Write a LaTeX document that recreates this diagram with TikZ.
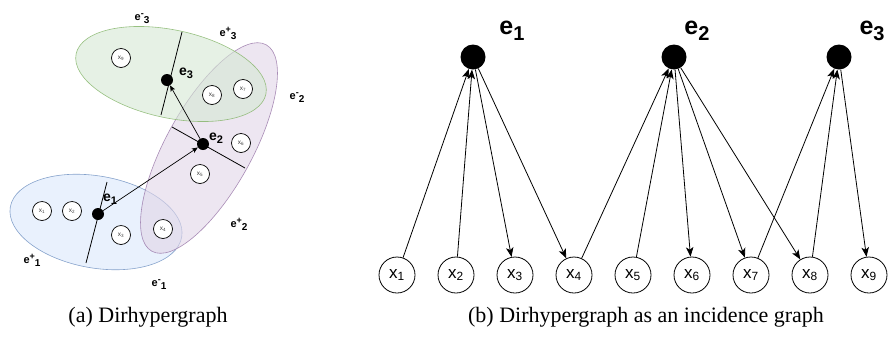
\documentclass[tikz,border=0pt]{standalone}
\usepackage{fontspec}
\setmainfont{Liberation Serif}
\newfontfamily\arial{Liberation Sans}
\usetikzlibrary{shapes.geometric,arrows.meta}
\definecolor{bfill}{HTML}{DAE8FC}
\definecolor{bdraw}{HTML}{6C8EBF}
\definecolor{pfill}{HTML}{E1D5E7}
\definecolor{pdraw}{HTML}{9673A6}
\definecolor{gfill}{HTML}{D5E8D4}
\definecolor{gdraw}{HTML}{82B366}
\newcommand{\epm}[2]{{\fontsize{11}{11}\selectfont e}\raisebox{4pt}{\fontsize{9}{9}\selectfont #1}\raisebox{-3pt}{\fontsize{10}{10}\selectfont #2}}
\newcommand{\esmall}[1]{{\fontsize{14}{14}\selectfont e}\raisebox{-3pt}{\fontsize{11}{11}\selectfont #1}}
\newcommand{\ebig}[1]{{\fontsize{25}{25}\selectfont e}\raisebox{-6pt}{\fontsize{20}{20}\selectfont #1}}
\begin{document}
\begin{tikzpicture}[x=1pt,y=-1pt,
  ell/.style={ellipse, inner sep=0pt, fill opacity=0.6, draw opacity=0.8, line width=0.6pt},
  lx/.style={circle, draw, fill=white, minimum size=19pt, inner sep=0pt, line width=0.7pt,
     font=\arial\fontsize{6.5}{6.5}\selectfont, text=black!75},
  rx/.style={circle, draw, minimum size=36pt, inner sep=0pt, line width=0.8pt,
     font=\arial\fontsize{17}{17}\selectfont},
  dotl/.style={circle, fill, minimum size=12pt, inner sep=0pt},
  dotr/.style={circle, fill, minimum size=25pt, inner sep=0pt},
  divl/.style={line width=0.8pt},
  sarr/.style={-{Stealth[length=6pt,width=5pt,inset=1.5pt]}, line width=0.7pt},
  arr/.style={-{Stealth[length=9.5pt,width=7.5pt,inset=2.5pt]}, line width=0.8pt},
  blab/.style={font=\arial\bfseries, inner sep=0pt},
  captxt/.style={font=\fontsize{22}{22}\selectfont, inner sep=0pt}]
\useasboundingbox (0,0) rectangle (888,338);

% ---- left panel: ellipses ----
\node[ell, fill=bfill, draw=bdraw, minimum width=174pt, minimum height=92pt, rotate=-10] (EB) at (96,222) {};
\node[ell, fill=pfill, draw=pdraw, minimum width=236pt, minimum height=86pt, rotate=61] (EP) at (209,148) {};
\node[ell, fill=gfill, draw=gdraw, minimum width=194pt, minimum height=88pt, rotate=-12] (EG) at (171,74) {};

% dividers
\coordinate (b1a) at (107,182); \coordinate (b1b) at (86,263);
\coordinate (p1a) at (172,127); \coordinate (p1b) at (245,168);
\coordinate (g1a) at (182,32);  \coordinate (g1b) at (161,115);
\draw[divl] (b1a) -- (b1b);
\draw[divl] (p1a) -- (p1b);
\draw[divl] (g1a) -- (g1b);

% vertices
\node[lx] (L1) at (42,211) {x\textsubscript{1}};
\node[lx] (L2) at (72,211) {x\textsubscript{2}};
\node[lx] (L3) at (121,235) {x\textsubscript{3}};
\node[lx] (L4) at (163,229) {x\textsubscript{4}};
\node[lx] (L5) at (200,174) {x\textsubscript{5}};
\node[lx] (L6) at (241,143) {x\textsubscript{6}};
\node[lx] (L7) at (243,89) {x\textsubscript{7}};
\node[lx] (L8) at (212,95) {x\textsubscript{8}};
\node[lx] (L9) at (121,58) {x\textsubscript{9}};

% hyperedge dots
\node[dotl] (D1) at (98,214) {};
\node[dotl] (D2) at (203,144) {};
\node[dotl] (D3) at (167,80) {};
\draw[sarr] (D1) -- (D2);
\draw[sarr] (D2) -- (D3);

\node[blab] (ld1) at (110,199) {\esmall{1}};
\node[blab] (ld2) at (216,138) {\esmall{2}};
\node[blab] (ld3) at (186,73) {\esmall{3}};

\node[blab] (m3) at (142,19) {\epm{-}{3}};
\node[blab] (p3) at (228,33) {\epm{+}{3}};
\node[blab] (m2) at (297,98) {\epm{-}{2}};
\node[blab] (p2) at (239,224) {\epm{+}{2}};
\node[blab] (p1) at (32,260) {\epm{+}{1}};
\node[blab] (m1) at (159,285) {\epm{-}{1}};

% ---- right panel ----
\foreach \i in {1,...,9} {
  \node[rx] (X\i) at ({397+59*(\i-1)},275) {x\textsubscript{\i}};
}
\node[dotr] (R1) at (473,57) {};
\node[dotr] (R2) at (674,57) {};
\node[dotr] (R3) at (839,57) {};
\node[blab] (lr1) at (512,31) {\ebig{1}};
\node[blab] (lr2) at (697,31) {\ebig{2}};
\node[blab] (lr3) at (872,31) {\ebig{3}};

\draw[arr] (X1) -- (R1);
\draw[arr] (X2) -- (R1);
\draw[arr] (R1) -- (X3);
\draw[arr] (R1) -- (X4);
\draw[arr] (X4) -- (R2);
\draw[arr] (X5) -- (R2);
\draw[arr] (R2) -- (X6);
\draw[arr] (R2) -- (X7);
\draw[arr] (R2) -- (X8);
\draw[arr] (X7) -- (R3);
\draw[arr] (X8) -- (R3);
\draw[arr] (R3) -- (X9);

% captions
\node[captxt] (ca) at (148,317) {(a) Dirhypergraph};
\node[captxt] (cb) at (646,317) {(b) Dirhypergraph as an incidence graph};
\end{tikzpicture}
\end{document}
